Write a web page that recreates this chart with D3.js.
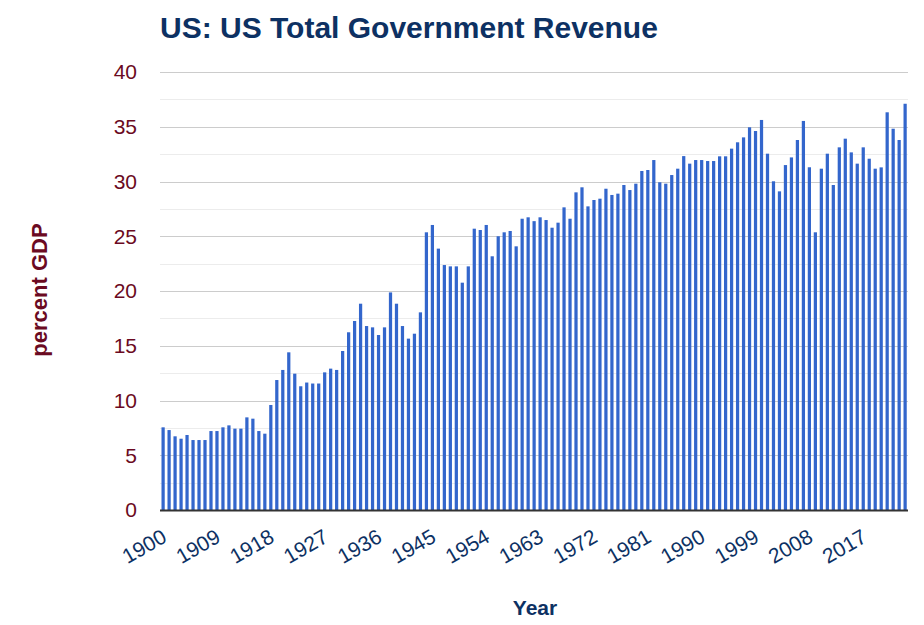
<!DOCTYPE html>
<html>
<head>
<meta charset="utf-8">
<script src="https://cdn.jsdelivr.net/npm/d3@7"></script>
<style>
  html, body { margin: 0; padding: 0; background: #fff; }
  svg { display: block; font-family: "Liberation Sans", Arial, sans-serif; }
</style>
</head>
<body>
<svg id="chart" width="924" height="625"></svg>
<script>
const titleText = "US: US Total Government Revenue";
const yAxisTitle = "percent GDP";
const xAxisTitle = "Year";

const years = d3.range(1900, 2025);
const values = [
  7.55, 7.3, 6.73, 6.51, 6.85, 6.39, 6.39, 6.39, 7.21, 7.21,
  7.55, 7.73, 7.43, 7.43, 8.46, 8.34, 7.21, 6.97, 9.59, 11.87,
  12.79, 14.4, 12.45, 11.3, 11.64, 11.55, 11.55, 12.57, 12.91, 12.79,
  14.52, 16.23, 17.26, 18.84, 16.8, 16.68, 15.98, 16.68, 19.87, 18.84,
  16.8, 15.65, 16.1, 18.05, 25.36, 26.03, 23.87, 22.37, 22.25, 22.25,
  20.76, 22.25, 25.69, 25.57, 26.03, 23.17, 25.0, 25.36, 25.48, 24.08,
  26.6, 26.73, 26.38, 26.73, 26.48, 25.78, 26.24, 27.64, 26.6, 29.01,
  29.47, 27.73, 28.31, 28.43, 29.34, 28.77, 28.89, 29.68, 29.22, 29.8,
  30.96, 31.05, 31.96, 29.93, 29.8, 30.59, 31.17, 32.32, 31.63, 31.96,
  31.96, 31.87, 31.87, 32.3, 32.3, 33.0, 33.58, 34.03, 34.95, 34.61,
  35.62, 32.54, 30.02, 29.1, 31.5, 32.2, 33.79, 35.53, 31.3, 25.36,
  31.17, 32.54, 29.68, 33.12, 33.91, 32.66, 31.63, 33.12, 32.08, 31.17,
  31.29, 36.32, 34.82, 33.79, 37.1
];
const yTicks = [0, 5, 10, 15, 20, 25, 30, 35, 40];
const yMinorTicks = [2.5, 7.5, 12.5, 17.5, 22.5, 27.5, 32.5, 37.5];
const xTickYears = [1900, 1909, 1918, 1927, 1936, 1945, 1954, 1963, 1972, 1981, 1990, 1999, 2008, 2017];

const data = years.map((yr, i) => ({ year: yr, value: values[i] }));

const svg = d3.select("#chart");
const plotLeft = 160, plotRight = 908, plotTop = 72, plotBottom = 510;

const x = d3.scaleBand().domain(years).range([plotLeft, plotRight]).padding(0);
const y = d3.scaleLinear().domain([0, 40]).range([plotBottom, plotTop]);

// minor gridlines
svg.append("g").selectAll("line").data(yMinorTicks).join("line")
  .attr("x1", plotLeft).attr("x2", plotRight)
  .attr("y1", d => Math.round(y(d)) + 0.5).attr("y2", d => Math.round(y(d)) + 0.5)
  .attr("stroke", "#ececec").attr("stroke-width", 1);

// major gridlines
svg.append("g").selectAll("line").data(yTicks.filter(d => d > 0)).join("line")
  .attr("x1", plotLeft).attr("x2", plotRight)
  .attr("y1", d => Math.round(y(d)) + 0.5).attr("y2", d => Math.round(y(d)) + 0.5)
  .attr("stroke", "#cccccc").attr("stroke-width", 1);

// bars
const bw = x.bandwidth();
svg.append("g").selectAll("rect").data(data).join("rect")
  .attr("x", d => x(d.year) + bw * 0.25)
  .attr("width", bw * 0.54)
  .attr("y", d => y(d.value))
  .attr("height", d => y(0) - y(d.value))
  .attr("fill", "#3366cc");

// baseline
svg.append("line")
  .attr("x1", plotLeft).attr("x2", plotRight)
  .attr("y1", y(0) + 0.5).attr("y2", y(0) + 0.5)
  .attr("stroke", "#333333").attr("stroke-width", 2);

// y axis labels
const yAxis = d3.axisLeft(y).tickValues(yTicks).tickSize(0).tickPadding(0).tickFormat(d3.format("d"));
const yg = svg.append("g").attr("transform", `translate(${plotLeft - 23},0)`).call(yAxis);
yg.select(".domain").remove();
yg.selectAll("text")
  .attr("fill", "#6b0a22")
  .attr("font-size", "21px")
  .attr("dy", "0.33em")
  .attr("font-family", "Liberation Sans, Arial, sans-serif");

// x axis labels
const xAxis = d3.axisBottom(x).tickValues(xTickYears).tickSize(0).tickFormat(d3.format("d"));
const xg = svg.append("g").attr("transform", `translate(0,${plotBottom})`).call(xAxis);
xg.select(".domain").remove();
xg.selectAll("text")
  .attr("fill", "#0d3163")
  .attr("font-size", "21px")
  .attr("font-family", "Liberation Sans, Arial, sans-serif")
  .attr("text-anchor", "end")
  .attr("dy", 0)
  .attr("y", 0)
  .attr("transform", "translate(5,31) rotate(-30)");

// title
svg.append("text")
  .attr("x", plotLeft).attr("y", 38)
  .attr("font-size", "30px").attr("font-weight", "bold")
  .attr("fill", "#0d3163")
  .text(titleText);

// y axis title
svg.append("text")
  .attr("transform", `translate(47,290) rotate(-90)`)
  .attr("text-anchor", "middle")
  .attr("font-size", "22px").attr("font-weight", "bold")
  .attr("fill", "#6b0a22")
  .text(yAxisTitle);

// x axis title
svg.append("text")
  .attr("x", 535).attr("y", 615)
  .attr("text-anchor", "middle")
  .attr("font-size", "21px").attr("font-weight", "bold")
  .attr("fill", "#0d3163")
  .text(xAxisTitle);
</script>
</body>
</html>
